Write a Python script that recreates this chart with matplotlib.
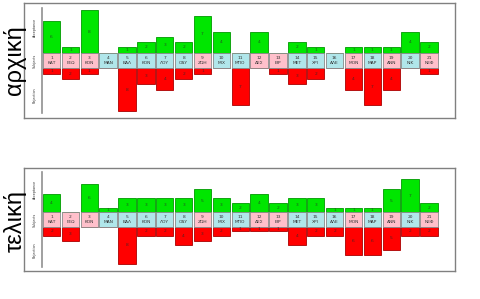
import matplotlib
matplotlib.use("Agg")
import matplotlib.pyplot as plt

names = ["ΚΑΤ", "ΓΕΩ", "ΚΟΝ", "ΜΑΝ", "ΒΑΛ", "ΚΟΝ", "ΛΟΥ", "ΟΔΥ", "ΖΩΗ", "ΜΙΧ", "ΜΠΟ",
         "ΔΕΣ", "ΕΙΡ", "ΜΕΤ", "ΧΡΙ", "ΑΛΕ", "ΜΟΝ", "ΜΑΡ", "ΑΝΝ", "ΝΙΚ", "ΝΕΦ"]
girl = [1, 1, 1, 0, 0, 0, 0, 0, 1, 0, 0, 1, 1, 0, 0, 0, 1, 0, 1, 0, 1]

accept_initial = [6, 1, 8, 0, 1, 2, 3, 2, 7, 4, 0, 4, 0, 2, 1, 0, 1, 1, 1, 4, 2]
reject_initial = [1, 2, 1, 0, 8, 3, 4, 2, 1, 0, 7, 0, 1, 3, 2, 0, 4, 7, 4, 0, 1]
accept_final = [4, 0, 6, 1, 3, 3, 3, 3, 5, 3, 2, 4, 2, 3, 3, 1, 1, 1, 5, 7, 2]
reject_final = [2, 3, 0, 0, 8, 2, 2, 4, 3, 2, 1, 1, 1, 4, 2, 2, 6, 6, 5, 2, 2]

panel_titles = ["αρχική", "τελική"]
axis_labels = ["Acceptance", "Subjects", "Rejection"]

GREEN = "#00e600"
GREEN_E = "#009900"
RED = "#ff0000"
RED_E = "#aa0000"
PINK = "#ffc0cb"
BLUE = "#b0e6ea"

fig = plt.figure(figsize=(4.8, 2.99), dpi=100)
axes_rects = [[0.05, 0.605, 0.898, 0.385], [0.05, 0.094, 0.898, 0.344]]
title_y = [0.80, 0.262]

data = [(accept_initial, reject_initial), (accept_final, reject_final)]
W = 0.92
H = 1.5
for k, (acc, rej) in enumerate(data):
    ax = fig.add_axes(axes_rects[k])
    ax.set_xlim(-0.46, 22.38)
    ax.set_ylim(-10.9, 10.9)
    ax.set_xticks([]); ax.set_yticks([])
    for s in ax.spines.values():
        s.set_color("#808080"); s.set_linewidth(1.0)
    ax.plot([0.5, 0.5], [-10, 10], color="#909090", lw=1.2)
    ax.text(0.12, 6.3, axis_labels[0], rotation=90, ha="center", va="center", fontsize=2.4, color="#333333")
    ax.text(0.12, 0, axis_labels[1], rotation=90, ha="center", va="center", fontsize=2.4, color="#333333")
    ax.text(0.12, -6.5, axis_labels[2], rotation=90, ha="center", va="center", fontsize=2.4, color="#333333")
    x = list(range(1, 22))
    ax.bar(x, acc, width=W, bottom=H, color=GREEN, edgecolor=GREEN_E, linewidth=0.6)
    ax.bar(x, [-r for r in rej], width=W, bottom=-H, color=RED, edgecolor=RED_E, linewidth=0.6)
    ax.bar(x, [2 * H] * 21, width=W, bottom=-H,
           color=[PINK if g else BLUE for g in girl], edgecolor="#888888", linewidth=0.6)
    for i in range(21):
        xi = x[i]
        ax.text(xi, 0, f"{i + 1}\n{names[i]}", ha="center", va="center", fontsize=3.2,
                color="#333333", linespacing=1.1)
        if acc[i] > 0:
            ax.text(xi, H + acc[i] / 2, str(acc[i]), ha="center", va="center", fontsize=3.2, color="#225522")
        if rej[i] > 0:
            ax.text(xi, -H - rej[i] / 2, str(rej[i]), ha="center", va="center", fontsize=3.2, color="#552222")
    fig.text(0.031, title_y[k], panel_titles[k], rotation=90, ha="center", va="center",
             fontsize=17, color="black", family="Liberation Sans")

fig.savefig("out.png", dpi=100)
